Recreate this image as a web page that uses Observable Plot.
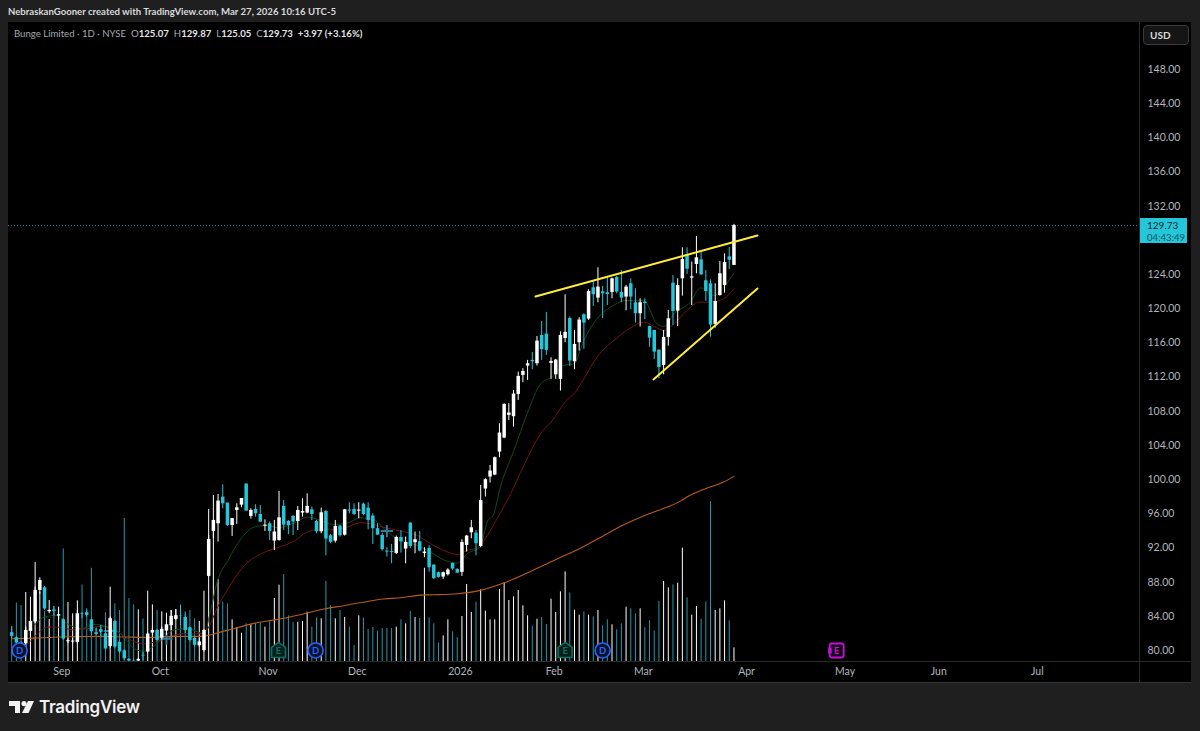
<!DOCTYPE html>
<html><head><meta charset="utf-8">
<script src="https://cdn.jsdelivr.net/npm/d3@7"></script>
<script src="https://cdn.jsdelivr.net/npm/@observablehq/plot@0.6"></script>
<style>
html,body{margin:0;padding:0;background:#1f1f1f;width:1200px;height:731px;overflow:hidden;font-family:Lato,"Noto Sans",sans-serif}
.abs{position:absolute;white-space:nowrap}
svg{display:block}
.lg b{color:#e4e5e8;margin-right:5px}
</style></head><body>
<div class="abs" style="left:8px;top:6px;font-size:9.6px;font-weight:700;color:#d8d9dc">NebraskanGooner created with TradingView.com, Mar 27, 2026 10:16 UTC-5</div>
<div id="chart" class="abs" style="left:8px;top:22px"></div>
<div class="abs" style="left:1139px;top:22px;width:1px;height:661px;background:#2a2a2a"></div>
<div class="abs" style="left:8px;top:661px;width:1183px;height:1px;background:#2a2a2a"></div>
<div class="abs" style="left:8px;top:682px;width:1183px;height:1px;background:#333"></div>
<div class="abs lg" style="left:14px;top:28px;font-size:9.6px;color:#a5a8b0"><span style="margin-right:5px">Bunge Limited · 1D · NYSE</span>O<b>125.07</b>H<b>129.87</b>L<b>125.05</b>C<b>129.73</b><b>+3.97 (+3.16%)</b></div>
<div class="abs" style="left:1143px;top:25px;width:46px;height:20px;box-sizing:border-box;border:1px solid #3a3a3a;border-radius:4px;background:#151515;color:#d8d9dc;font-size:10px;font-weight:700;line-height:18px;padding-left:6px">USD</div>
<div id="tag" class="abs" style="left:1140px;width:47px;height:25px;background:#26c6da;color:#062a30;font-size:10px;line-height:12px;padding-left:7px;box-sizing:border-box;padding-top:1px">129.73<br><span style="color:#0f5560;font-size:9.6px;margin-left:0">04:43:49</span></div>
<svg class="abs" style="left:9px;top:701px" width="25" height="12" viewBox="0 0 25 12"><path fill="#f2f2f2" d="M0 0h11v12H6V5H0z"/><circle fill="#f2f2f2" cx="15" cy="2.6" r="2.6"/><path fill="#f2f2f2" d="M19 0h6l-5.5 12h-6.500z"/></svg>
<div class="abs" style="left:39px;top:697px;font-family:Inter,Lato,sans-serif;font-size:17px;font-weight:600;color:#f2f2f2;letter-spacing:-.25px">TradingView</div>
<script>
// OHLC in USD, one session per entry (index = session number)
const open = [82.08,81.49,80.87,80.79,82.23,83.33,87.03,87.34,84.53,84.73,84.03,83.60,81.02,80.99,80.95,84.34,84.42,83.60,82.08,82.43,81.96,80.48,83.40,80.95,79.97,78.96,78.76,78.76,79.43,79.82,82.04,82.35,81.45,82.27,82.90,83.64,84.07,83.87,82.66,81.45,80.56,80.01,88.67,93.93,94.83,97.95,97.25,94.63,96.39,97.01,99.47,95.69,96.51,95.92,94.56,94.83,92.80,92.88,96.86,95.10,95.69,95.10,96.08,96.08,96.47,95.10,93.89,96.27,93.43,92.80,94.56,93.50,96.43,96.51,96.31,97.13,96.66,95.73,94.25,93.46,91.63,91.59,91.36,93.23,91.87,94.91,92.61,92.72,91.36,91.94,89.99,89.10,88.59,88.86,90.19,89.49,89.14,92.30,93.78,93.74,92.18,98.90,100.30,100.53,103.22,104.86,107.52,107.36,109.97,112.20,113.29,113.95,113.56,116.87,117.03,113.60,112.27,111.73,116.52,118.86,113.79,116.02,119.29,118.79,122.45,121.24,121.98,121.87,121.91,123.66,121.91,121.36,122.92,120.70,119.41,120.77,117.92,117.46,115.15,113.36,116.64,122.99,119.72,123.50,126.31,123.58,125.18,125.72,123.27,122.92,118.16,121.55,122.72,126.07,125.07];
const high = [82.74,81.65,80.99,82.74,83.91,87.42,88.51,87.50,85.86,85.16,84.69,83.72,81.38,81.38,84.69,84.38,84.89,83.64,82.55,82.94,82.82,83.91,83.52,81.10,80.09,79.04,79.00,79.04,79.82,82.04,82.55,82.43,82.74,83.33,84.69,84.77,85.28,84.50,82.74,81.57,81.38,82.43,93.46,98.15,98.26,99.39,97.25,95.45,97.17,97.79,99.51,96.59,97.05,96.97,95.30,95.03,95.22,98.61,97.56,95.22,95.80,96.86,97.75,98.34,96.78,95.22,96.66,96.39,93.58,95.22,94.64,96.51,97.29,97.17,97.29,97.25,97.29,96.00,94.83,93.74,92.02,92.41,93.39,94.05,93.27,94.95,93.86,93.93,92.02,92.30,90.03,89.18,89.18,89.57,90.23,89.57,92.96,93.46,95.22,94.05,99.32,100.10,101.67,102.64,106.54,108.88,108.88,110.44,112.58,112.98,113.95,114.89,116.76,118.51,119.57,114.26,114.07,117.30,121.63,119.02,117.46,118.94,119.41,122.22,123.23,124.79,122.61,123.78,123.58,123.78,124.48,122.73,123.50,122.34,121.16,121.16,117.96,117.46,115.19,117.46,119.80,123.89,123.50,127.13,127.13,125.45,128.45,126.62,124.47,123.38,122.92,125.53,126.42,127.17,129.87];
const low = [81.37,80.59,79.82,80.20,81.69,83.13,86.56,84.69,84.30,83.99,83.52,81.18,80.79,80.79,80.79,83.72,83.91,81.77,81.77,81.65,80.01,80.28,80.20,79.62,78.84,78.65,77.67,78.65,78.76,79.70,81.77,80.99,81.18,81.77,82.35,83.52,82.93,81.96,80.99,80.40,80.40,79.82,88.59,93.08,92.69,96.59,94.52,93.35,94.75,96.70,96.31,95.38,95.61,94.95,93.93,92.88,91.71,92.80,94.05,93.54,93.46,94.05,95.61,96.00,95.22,93.66,93.66,91.09,92.49,92.57,93.27,93.39,96.00,95.80,95.42,95.77,94.13,92.41,93.46,91.63,90.93,90.15,91.24,91.40,90.15,91.90,91.32,91.55,90.85,89.17,88.32,88.47,88.32,88.71,89.37,88.98,88.67,91.52,93.08,91.09,92.02,97.96,99.60,100.46,102.56,104.79,106.93,106.15,109.27,111.34,111.61,112.86,113.29,113.95,114.54,111.73,111.73,110.36,116.02,113.25,112.86,115.04,115.24,118.63,120.27,120.70,118.86,120.39,121.16,121.75,120.70,119.76,119.88,118.32,117.85,118.74,115.50,114.06,111.80,112.27,115.62,118.04,117.92,121.47,124.01,120.38,124.09,123.89,120.85,116.68,117.73,121.47,121.82,124.59,125.05];
const close = [81.65,80.87,80.40,82.35,83.40,87.03,88.20,84.85,84.69,84.57,84.18,81.34,81.14,81.10,84.30,84.26,84.11,82.19,81.88,82.12,80.17,83.72,80.40,79.82,79.04,78.76,78.06,78.96,79.35,81.92,82.35,81.18,82.47,83.01,84.00,84.07,84.03,82.35,81.18,80.60,81.00,82.35,93.00,95.22,97.48,97.17,94.63,95.45,96.70,97.79,96.31,96.39,96.00,95.03,94.67,93.93,93.86,95.53,94.67,94.63,95.03,96.39,96.27,96.86,95.92,93.89,96.12,93.04,92.65,94.52,93.43,96.47,96.31,95.92,96.43,95.92,95.22,94.25,93.50,91.79,91.52,91.48,93.23,92.72,92.65,92.18,92.96,91.63,91.52,89.68,88.40,88.55,89.10,89.41,89.53,89.06,92.65,93.39,94.36,92.49,97.56,99.99,101.00,102.56,105.45,108.80,107.79,110.01,112.08,112.66,113.56,113.79,116.21,115.20,115.12,113.83,113.99,116.87,117.23,113.87,115.82,118.67,118.32,122.02,121.63,122.53,121.75,121.67,123.50,121.95,121.24,122.53,121.36,119.41,120.70,120.61,116.56,114.92,113.13,116.64,118.82,119.68,122.72,125.76,124.63,123.73,125.96,123.97,122.02,118.08,120.85,124.09,125.41,125.68,129.73];
// session volume, in units of roughly 11k shares
const volume = [105,175,168,207,193,297,208,150,126,165,163,338,177,143,182,230,153,280,103,108,146,223,173,153,429,189,170,155,128,211,170,153,149,145,153,156,170,141,153,128,120,211,456,420,246,178,173,125,101,85,113,110,113,115,103,121,189,229,261,137,117,118,120,148,103,131,128,240,167,128,153,132,103,48,137,130,96,102,91,99,99,99,103,125,113,150,132,129,280,131,113,56,77,125,89,72,135,231,147,178,215,151,125,125,216,236,183,194,213,167,137,106,127,132,111,187,147,209,269,206,154,139,149,139,134,153,107,125,110,95,113,163,158,143,158,101,122,92,180,240,221,230,235,340,191,139,165,127,179,480,153,158,182,122,41];
const volumeBase = 78.71, volumePerUnit = 0.039;

// moving averages: [session, price]
const maSlow = [[0,81.37],[4.8,81.45],[11.9,81.61],[19,81.65],[24.7,81.57],[29,81.53],[34.7,81.65],[40.4,81.65],[43.2,81.96],[47.5,82.58],[51.7,83.17],[56.7,83.64],[61.7,84.22],[66.9,84.89],[70.8,85.24],[75.8,85.74],[79.3,86.02],[82.9,86.17],[87.2,86.48],[90,86.52],[95,86.64],[99.2,86.95],[104.9,87.89],[109.9,89.06],[115.6,90.54],[120.6,91.79],[126.3,93.47],[130.5,94.71],[135.5,95.92],[139.8,96.78],[142.6,97.48],[144,97.96],[148.3,99.01],[151.8,99.72],[154,100.38]];
const maMid = [[0,80.20],[3.4,80.79],[5.5,81.96],[7.7,82.74],[9.8,82.74],[13,82.43],[16.2,82.55],[19,82.82],[21.9,82.43],[24.7,81.38],[28.3,80.79],[33.3,81.49],[36.1,81.96],[40.4,81.96],[41.8,82.55],[43.9,85.08],[46.8,87.81],[49.6,89.96],[52.5,91.13],[55.3,91.79],[58.1,92.30],[61,93.08],[62.3,93.66],[65.1,94.13],[68.7,94.13],[71.5,94.44],[74.4,94.95],[76.5,94.83],[79,94.44],[82.9,93.97],[86.5,93.46],[89.3,92.49],[92.1,91.71],[95,91.24],[97.1,91.71],[98.9,91.94],[100.7,92.89],[103.5,95.43],[106.4,98.35],[109.2,101.67],[112.8,105.37],[115.6,107.13],[117.7,108.88],[120.2,110.25],[122,111.80],[124.8,114.34],[128.4,116.29],[132,117.77],[134.8,118.44],[136.9,117.93],[139.1,117.46],[141.2,118.24],[144,119.80],[146.5,120.77],[149,120.77],[151.8,121.17],[154,122.34]];
const maFast = [[4.8,82.93],[7,83.91],[9.5,84.10],[11.9,83.13],[14.8,82.55],[17.6,83.05],[20.5,82.74],[23.3,81.96],[26.2,80.20],[28.3,79.89],[31.1,80.87],[34.7,82.43],[37.5,82.55],[41.1,81.96],[42.1,83.91],[43.9,88.20],[46.1,90.54],[48.9,93.08],[51.7,94.44],[54.6,94.64],[56.6,94.36],[60.2,94.91],[63,95.61],[65.8,95.22],[68.7,94.75],[71.5,94.91],[74.4,95.53],[77.2,95.30],[80.1,93.86],[82.9,92.88],[86.5,92.30],[89.3,91.52],[92.1,90.62],[95,90.23],[97.1,91.32],[99.9,92.18],[101.4,95.03],[102.8,96.01],[104.2,99.13],[107.1,103.42],[109.9,107.71],[112.8,111.22],[115.2,112.0],[117.7,113.37],[119.9,113.56],[122,116.29],[124.8,118.83],[127.7,120.19],[131.2,120.97],[134.8,120.97],[137.6,118.24],[139.1,117.93],[141.2,119.41],[144.7,120.77],[146.9,122.45],[149.7,121.56],[151.8,122.53],[154,124.17]];

// hand-drawn trend lines: [session, price]
const trendUpper = [[111.68,121.43],[159.02,128.57]];
const trendLower = [[136.84,111.72],[159.02,122.37]];

// faint cross marks on the candles: [session, price]
const crossMarks = [[21,82.27],[33,81.37],[80,93.97]];

// earnings and dividend events
const eventSession = [1.7,56.9,64.8,118,126,175.9];
const eventKind = ["D","E","D","E","D","N"];
const eventPrice = 80;

const yTicks = [80,84,88,92,96,100,104,108,112,116,120,124,132,136,140,144,148];
const monthSession = [11,32,55,74,96,116,135,157,178,198,219];
const monthLabels = ["Sep","Oct","Nov","Dec","2026","Feb","Mar","Apr","May","Jun","Jul"];
const lastPrice = 129.73;

const UP = "#ffffff", DOWN = "#26c6da", VOL_DOWN = "#1f9aae";
const bars = open.map((o,i)=>({i,o,h:high[i],l:low[i],c:close[i],v:volume[i],up:close[i]>=o}));

const house = {draw(ctx,size){const r=Math.sqrt(size/Math.PI);
  ctx.moveTo(0,-r*1.15);ctx.lineTo(r,-r*.45);ctx.lineTo(r,r);ctx.lineTo(-r,r);ctx.lineTo(-r,-r*.45);ctx.closePath();}};
const future = {draw(ctx,size){const r=Math.sqrt(size/Math.PI),c=2;
  ctx.moveTo(-r+c,-r);ctx.lineTo(r-c,-r);ctx.quadraticCurveTo(r,-r,r,-r+c);ctx.lineTo(r,r-c);ctx.quadraticCurveTo(r,r,r-c,r);
  ctx.lineTo(-r+c,r);ctx.quadraticCurveTo(-r,r,-r,r-c);ctx.lineTo(-r,-r+c);ctx.quadraticCurveTo(-r,-r,-r+c,-r);ctx.closePath();
  for(const dy of [-2,0,2]){ctx.moveTo(-r-1.5,dy);ctx.lineTo(-r+2,dy);}}};
const events = eventSession.map((x,k)=>({x,kind:eventKind[k]}));
const iconStyle = {D:"#2962ff",E:"#0f6f60",N:"#c511d8"};
const pick = k => events.filter(e=>e.kind===k);
const clip = true;

const chart = Plot.plot({
  width:1183, height:661,
  marginLeft:0, marginRight:52, marginTop:0, marginBottom:22,
  x:{domain:[-0.68,240.47]},
  y:{domain:[78.71,153.5]},
  style:{background:"#000",color:"#b2b5be",fontFamily:'Lato,"Noto Sans",sans-serif',fontSize:"10.5px"},
  marks:[
    Plot.ruleX(bars,{x:"i",y1:volumeBase,y2:d=>volumeBase+d.v*volumePerUnit,stroke:d=>d.up?UP:VOL_DOWN,strokeWidth:1,clip}),
    Plot.ruleY([lastPrice],{stroke:"#26c6da",strokeDasharray:"1 2",strokeOpacity:.75}),
    Plot.line(maFast,{x:"0",y:"1",stroke:"#16491c",strokeWidth:1,curve:"monotone-x",clip}),
    Plot.line(maMid,{x:"0",y:"1",stroke:"#6e1518",strokeWidth:1,curve:"monotone-x",clip}),
    Plot.line(maSlow,{x:"0",y:"1",stroke:"#b85c18",strokeWidth:1.1,curve:"monotone-x",clip}),
    Plot.dot(crossMarks,{x:"0",y:"1",symbol:"plus",r:4,stroke:"#2a7d98",strokeWidth:2}),
    Plot.ruleX(bars,{x:"i",y1:"l",y2:"h",stroke:d=>d.up?UP:DOWN,strokeWidth:1,clip}),
    Plot.ruleX(bars,{x:"i",y1:"o",y2:"c",stroke:d=>d.up?UP:DOWN,strokeWidth:3.5,clip}),
    Plot.line(trendUpper,{x:"0",y:"1",stroke:"#ffeb3b",strokeWidth:2}),
    Plot.line(trendLower,{x:"0",y:"1",stroke:"#ffeb3b",strokeWidth:2}),
    Plot.dot(pick("D"),{x:"x",y:()=>eventPrice,r:7.5,fill:"#0a1226",stroke:iconStyle.D,strokeWidth:1.6}),
    Plot.dot(pick("E"),{x:"x",y:()=>eventPrice,symbol:house,r:7,fill:"#04201c",stroke:iconStyle.E,strokeWidth:1.6}),
    Plot.dot(pick("N"),{x:"x",y:()=>eventPrice,symbol:future,r:7,fill:"#150318",stroke:iconStyle.N,strokeWidth:1.8}),
    Plot.text(events,{x:"x",y:()=>eventPrice,text:d=>d.kind==="N"?"E":d.kind,fill:d=>iconStyle[d.kind],fontSize:9.5,fontWeight:700}),
    Plot.axisY(yTicks,{anchor:"right",tickSize:0,tickPadding:8,tickFormat:d=>d.toFixed(2),label:null,fontSize:10.5}),
    Plot.axisX(monthSession,{anchor:"bottom",tickSize:0,tickPadding:6,dx:-1.5,tickFormat:d=>monthLabels[monthSession.indexOf(d)],label:null,fontSize:10.5})
  ]
});
document.getElementById("chart").append(chart);
document.getElementById("tag").style.top = (22 + chart.scale("y").apply(lastPrice) - 7) + "px";
</script>
</body></html>
